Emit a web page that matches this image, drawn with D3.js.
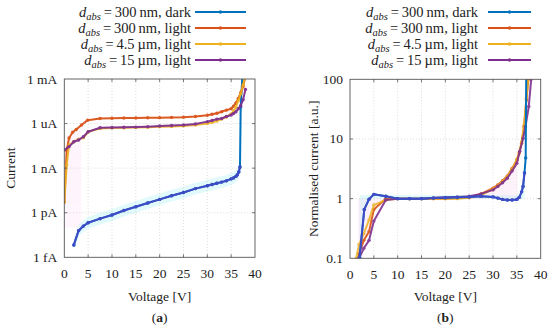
<!DOCTYPE html>
<html>
<head>
<meta charset="utf-8">
<script src="https://cdn.jsdelivr.net/npm/d3@7"></script>
<style>
  body { margin: 0; background: #fff; }
</style>
</head>
<body>
<script>
// series names in legend order
const seriesNames = ["300 nm, dark", "300 nm, light", "4.5 µm, light", "15 µm, light"];
const seriesColors = ["#0072BD", "#D95319", "#EDB120", "#7E2F8E"];

// (a) current vs voltage
const darkV = [2, 3, 4, 5, 7.5, 10, 12.5, 15, 17.5, 20, 22.5, 25, 27.5, 30, 31, 32, 33, 34, 35, 35.5, 36, 36.3, 36.6, 36.85, 37.0, 37.4];
const darkI = [6.8e-15, 6.2e-14, 1.26e-13, 2.1e-13, 4e-13, 7e-13, 1.4e-12, 2.5e-12, 4.5e-12, 7.9e-12, 1.4e-11, 2.3e-11, 4.2e-11, 6.6e-11, 8e-11, 9.6e-11, 1.15e-10, 1.4e-10, 1.9e-10, 2.2e-10, 2.8e-10, 3.6e-10, 5.5e-10, 1.2e-9, 1.3e-5, 3e-3];

const orangeV = [0, 0.5, 1, 1.75, 2.5, 3.6, 4.9, 7.5, 10, 12.5, 15, 17.5, 20, 22.5, 25, 27.5, 30, 31, 32, 33, 34, 35, 35.5, 36, 36.5, 37, 37.5, 38];
const orangeI = [5.2e-12, 1.6e-8, 1.07e-7, 2.6e-7, 4e-7, 8e-7, 1.7e-6, 2.2e-6, 2.3e-6, 2.35e-6, 2.4e-6, 2.45e-6, 2.5e-6, 2.6e-6, 2.7e-6, 3e-6, 3.6e-6, 4.2e-6, 5e-6, 6.3e-6, 8e-6, 1e-5, 1.5e-5, 2.4e-5, 5e-5, 1.2e-4, 3.1e-4, 1.5e-3];

const yellowV = [0, 0.5, 1, 2, 3, 4, 5, 7.5, 10, 12.5, 15, 17.5, 20, 22.5, 25, 27.5, 30, 31, 32, 33, 34, 35, 35.5, 36, 36.5, 37, 37.5, 38];
const yellowI = [5.2e-12, 1.6e-9, 3.6e-8, 6e-8, 9e-8, 1.1e-7, 2.8e-7, 4.7e-7, 5e-7, 5.2e-7, 5.4e-7, 5.7e-7, 6e-7, 6.3e-7, 7e-7, 8e-7, 1e-6, 1.2e-6, 1.5e-6, 2e-6, 2.8e-6, 4.5e-6, 7e-6, 1.3e-5, 3.5e-5, 1e-4, 4e-4, 2e-3];

const purpleV = [0, 1, 2, 3, 4, 5, 7.5, 10, 12.5, 15, 17.5, 20, 22.5, 25, 27.5, 30, 31, 32, 33, 34, 35, 35.5, 36, 36.5, 37, 37.5, 38];
const purpleI = [1.66e-8, 2.8e-8, 6e-8, 7.8e-8, 1.3e-7, 2.8e-7, 5.2e-7, 5.4e-7, 5.6e-7, 5.8e-7, 6.2e-7, 6.9e-7, 7.4e-7, 8e-7, 9.5e-7, 1.35e-6, 1.6e-6, 2e-6, 2.2e-6, 3e-6, 3.8e-6, 4.8e-6, 6.3e-6, 1e-5, 1.6e-5, 4e-5, 2e-4];

// (b) normalised current vs voltage
const nDarkV = [2, 3, 4, 5, 7.5, 10, 12.5, 15, 17.5, 20, 22.5, 25, 27.5, 30, 31, 32, 33, 34, 35, 35.5, 36, 36.3, 36.6, 36.85, 37.0];
const nDarkN = [0.104, 0.66, 0.98, 1.18, 1.1, 1.0, 1.0, 1.0, 1.02, 1.03, 1.05, 1.07, 1.1, 1.07, 1.02, 0.97, 0.95, 0.95, 0.97, 1.05, 1.3, 1.6, 2.7, 4.8, 300];

const nOrangeV = [1.7, 1.9, 2.9, 4, 5, 7.5, 10, 12.5, 15, 17.5, 20, 22.5, 25, 27.5, 30, 31, 32, 33, 34, 35, 35.5, 36, 36.5, 37, 37.4, 37.6];
const nOrangeN = [0.1, 0.12, 0.2, 0.28, 0.66, 1.0, 1.0, 1.0, 1.0, 1.0, 1.0, 1.02, 1.05, 1.2, 1.5, 1.7, 2.0, 2.4, 3.2, 4.4, 5.8, 8.5, 16, 45, 100, 200];

const nYellowV = [1.3, 1.9, 2.9, 4, 5, 7.5, 10, 12.5, 15, 17.5, 20, 22.5, 25, 27.5, 30, 31, 32, 33, 34, 35, 35.5, 36, 36.5, 37, 37.4, 37.6];
const nYellowN = [0.1, 0.17, 0.26, 0.44, 0.78, 0.95, 1.0, 1.0, 1.0, 1.0, 1.0, 1.0, 1.03, 1.15, 1.45, 1.65, 1.95, 2.35, 3.1, 4.6, 6, 9, 17, 48, 100, 200];

const nPurpleV = [1.9, 2.9, 4, 5, 7.5, 10, 12.5, 15, 17.5, 20, 22.5, 25, 27.5, 30, 31, 32, 33, 34, 35, 35.6, 36.3, 36.8, 37.5, 38];
const nPurpleN = [0.1, 0.147, 0.2, 0.42, 0.95, 1.0, 1.0, 1.0, 1.03, 1.05, 1.07, 1.1, 1.2, 1.4, 1.6, 1.85, 2.2, 2.9, 3.9, 6.2, 10.2, 16, 35, 100];

const xTicks = [0, 5, 10, 15, 20, 25, 30, 35, 40];
const aTicks = [1e-15, 1e-12, 1e-9, 1e-6, 1e-3];
const aTickLabels = ["1 fA", "1 pA", "1 nA", "1 uA", "1 mA"];
const bTicks = [0.1, 1, 10, 100];
const bTickLabels = ["0.1", "1", "10", "100"];

const W = 550, H = 329;
const FS = 13.5;
const svg = d3.select("body").append("svg").attr("width", W).attr("height", H)
    .attr("font-family", "'Liberation Serif', 'DejaVu Serif', 'Times New Roman', serif")
    .style("font-family", "'Liberation Serif', 'DejaVu Serif', 'Times New Roman', serif");

function zip(xs, ys) { return xs.map((x, i) => ({ x: x, y: ys[i] })); }

function drawPanel(p) {
    const x = d3.scaleLinear().domain([0, 40]).range([p.left, p.right]);
    const y = d3.scaleLog().domain(p.yDomain).range([p.bottom, p.top]);
    const g = svg.append("g");

    const clipId = "clip" + p.id;
    svg.append("clipPath").attr("id", clipId).append("rect")
        .attr("x", p.left).attr("y", p.top)
        .attr("width", p.right - p.left).attr("height", p.bottom - p.top);

    // dotted grid
    g.selectAll(".gx").data(xTicks.slice(1, -1)).join("line")
        .attr("x1", d => x(d)).attr("x2", d => x(d))
        .attr("y1", p.top).attr("y2", p.bottom)
        .attr("stroke", "#d4d4d4").attr("stroke-width", 0.8).attr("stroke-dasharray", "1,2");
    g.selectAll(".gy").data(p.yTicks.slice(1, -1)).join("line")
        .attr("x1", p.left).attr("x2", p.right)
        .attr("y1", d => y(d)).attr("y2", d => y(d))
        .attr("stroke", "#d4d4d4").attr("stroke-width", 0.8).attr("stroke-dasharray", "1,2");

    const plot = g.append("g").attr("clip-path", `url(#${clipId})`);

    // faint shaded bands
    p.bands.forEach(b => {
        const area = d3.area()
            .x(d => x(d.x))
            .y0(d => y(b.lo(d.y)))
            .y1(d => y(b.hi(d.y)));
        plot.append("path").datum(b.data).attr("d", area)
            .attr("fill", b.fill).attr("opacity", b.opacity);
    });

    const line = d3.line().x(d => x(d.x)).y(d => y(d.y));
    p.series.forEach(s => {
        const sg = plot.append("g").attr("opacity", s.opacity || 1);
        sg.append("path").datum(s.data).attr("d", line)
            .attr("fill", "none").attr("stroke", s.color)
            .attr("stroke-width", 2).attr("stroke-linejoin", "round");
        sg.selectAll("circle").data(s.data).join("circle")
            .attr("cx", d => x(d.x)).attr("cy", d => y(d.y))
            .attr("r", 1.7).attr("fill", s.color);
    });

    // frame
    g.append("rect").attr("x", p.left).attr("y", p.top)
        .attr("width", p.right - p.left).attr("height", p.bottom - p.top)
        .attr("fill", "none").attr("stroke", "#555").attr("stroke-width", 0.9);

    // inward ticks
    const tk = 3;
    xTicks.slice(1, -1).forEach(t => {
        g.append("line").attr("x1", x(t)).attr("x2", x(t)).attr("y1", p.bottom).attr("y2", p.bottom - tk)
            .attr("stroke", "#555").attr("stroke-width", 0.8);
        g.append("line").attr("x1", x(t)).attr("x2", x(t)).attr("y1", p.top).attr("y2", p.top + tk)
            .attr("stroke", "#555").attr("stroke-width", 0.8);
    });
    p.yTicks.slice(1, -1).forEach(t => {
        g.append("line").attr("x1", p.left).attr("x2", p.left + tk).attr("y1", y(t)).attr("y2", y(t))
            .attr("stroke", "#555").attr("stroke-width", 0.8);
        g.append("line").attr("x1", p.right).attr("x2", p.right - tk).attr("y1", y(t)).attr("y2", y(t))
            .attr("stroke", "#555").attr("stroke-width", 0.8);
    });

    // tick labels
    g.selectAll(".xl").data(xTicks).join("text")
        .attr("x", d => x(d)).attr("y", p.bottom + 21)
        .attr("text-anchor", "middle").attr("font-size", FS).attr("fill", "#222").text(d => d);
    g.selectAll(".yl").data(p.yTicks).join("text")
        .attr("x", p.left - 7).attr("y", d => y(d) + 4.5)
        .attr("text-anchor", "end").attr("font-size", FS).attr("fill", "#222").text((d, i) => p.yTickLabels[i]);

    // axis titles
    g.append("text").attr("x", (p.left + p.right) / 2).attr("y", 301)
        .attr("text-anchor", "middle").attr("font-size", FS).attr("fill", "#222").text("Voltage [V]");
    g.append("text").attr("transform", `translate(${p.yTitleX},${(p.top + p.bottom) / 2}) rotate(-90)`)
        .attr("text-anchor", "middle").attr("font-size", FS).attr("fill", "#222").text(p.yTitle);

    const cap = g.append("text").attr("x", (p.left + p.right) / 2).attr("y", 322)
        .attr("text-anchor", "middle").attr("font-size", FS).attr("fill", "#222");
    cap.append("tspan").text("(");
    cap.append("tspan").attr("font-weight", "bold").text(p.id);
    cap.append("tspan").text(")");

    // legend
    seriesNames.forEach((name, i) => {
        const ly = 12 + i * 16;
        const t = g.append("text").attr("x", p.legTextEnd).attr("y", ly + 4.5)
            .attr("text-anchor", "end").attr("font-size", 14.5).attr("fill", "#222");
        t.append("tspan").attr("font-style", "italic").text("d");
        t.append("tspan").attr("font-style", "italic").attr("font-size", 10.5).attr("dy", 3).text("abs");
        t.append("tspan").attr("dy", -3).text("\u2009=\u2009" + name.replace(" nm", "\u2009nm").replace(" µm", "\u2009µm"));
        g.append("line").attr("x1", p.legLine[0]).attr("x2", p.legLine[1]).attr("y1", ly).attr("y2", ly)
            .attr("stroke", seriesColors[i]).attr("stroke-width", 2);
        g.append("circle").attr("cx", (p.legLine[0] + p.legLine[1]) / 2).attr("cy", ly)
            .attr("r", 1.7).attr("fill", seriesColors[i]);
    });
}

const darkA = zip(darkV, darkI);
const darkB = zip(nDarkV, nDarkN);

drawPanel({
    id: "a", left: 64.3, right: 255, top: 79, bottom: 257.3,
    yDomain: [1e-15, 1e-3], yTicks: aTicks, yTickLabels: aTickLabels,
    yTitle: "Current", yTitleX: 15,
    legTextEnd: 191, legLine: [195, 246],
    bands: [
        { data: darkA.filter(d => d.x <= 36.6), lo: v => v / 2.5, hi: v => v * 2.5, fill: "#7fe8f0", opacity: 0.22 },
        { data: zip(orangeV, orangeI).filter(d => d.x <= 3.6), lo: v => 1e-13, hi: v => v, fill: "#f7c4e8", opacity: 0.15 }
    ],
    series: [
        { data: darkA, color: seriesColors[0] },
        { data: darkA.filter(d => d.x <= 36.85), color: "#4a46c8", opacity: 0.85 },
        { data: zip(orangeV, orangeI), color: seriesColors[1], opacity: 0.95 },
        { data: zip(yellowV, yellowI), color: seriesColors[2], opacity: 0.9 },
        { data: zip(purpleV, purpleI), color: seriesColors[3], opacity: 0.95 }
    ]
});

drawPanel({
    id: "b", left: 350, right: 540.7, top: 79.3, bottom: 258.3,
    yDomain: [0.1, 100], yTicks: bTicks, yTickLabels: bTickLabels,
    yTitle: "Normalised current [a.u.]", yTitleX: 318,
    legTextEnd: 478, legLine: [488, 531],
    bands: [
        { data: darkB.filter(d => d.x <= 36.6), lo: v => Math.min(v, 1), hi: v => Math.max(v, 1.15), fill: "#7fe8f0", opacity: 0.22 },
        { data: zip(nOrangeV, nOrangeN).filter(d => d.x <= 35), lo: v => Math.min(v, 1), hi: v => Math.max(v, 1), fill: "#f7c4e8", opacity: 0.22 }
    ],
    series: [
        { data: zip(nOrangeV, nOrangeN), color: seriesColors[1], opacity: 0.9 },
        { data: zip(nYellowV, nYellowN), color: seriesColors[2], opacity: 0.85 },
        { data: zip(nPurpleV, nPurpleN), color: seriesColors[3], opacity: 0.9 },
        { data: darkB, color: seriesColors[0] },
        { data: darkB.filter(d => d.x <= 36.6), color: "#4a46c8", opacity: 0.85 }
    ]
});
</script>
</body>
</html>
